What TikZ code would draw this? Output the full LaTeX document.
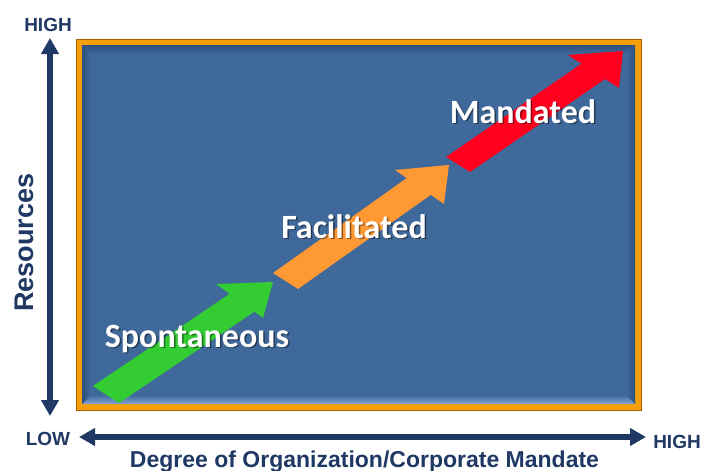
\documentclass[tikz,border=0pt]{standalone}
\usepackage{fontspec}
\setmainfont{Liberation Sans}
\newfontfamily\labelfont{Carlito}
\usetikzlibrary{arrows.meta,positioning}

\definecolor{navy}{RGB}{31,56,100}
\definecolor{boxblue}{RGB}{63,105,155}
\definecolor{boxdark}{RGB}{45,80,125}
\definecolor{boxlight}{RGB}{130,165,210}
\definecolor{frameorange}{RGB}{245,160,10}
\definecolor{framedark}{RGB}{170,95,0}
\definecolor{arrgreen}{RGB}{51,204,51}
\definecolor{arrorange}{RGB}{255,153,51}
\definecolor{arrred}{RGB}{255,0,30}

\tikzset{
  axis/.style={line width=6pt,color=navy,{Triangle[width=17pt,length=16pt]}-{Triangle[width=17pt,length=16pt]}},
  axislabel/.style={text=navy,font=\bfseries\fontsize{19}{22}\selectfont,anchor=base},
  axistitle/.style={text=navy,font=\bfseries\fontsize{23}{26}\selectfont,anchor=base},
  stage/.style={text=white,font=\labelfont\bfseries\fontsize{34}{40}\selectfont,anchor=base},
  stageshadow/.style={stage,text=black,opacity=0.45}
}

\begin{document}
\begin{tikzpicture}[x=1pt,y=-1pt]
  \useasboundingbox (0,0) rectangle (702,471);

  % frame and panel
  \draw [line width=1pt,color=framedark,fill=frameorange] (76,39) rectangle (641,410);
  \fill [boxblue] (82,45) rectangle (635,404);
  \shade [top color=boxdark,bottom color=boxblue] (82,45) -- (635,45) -- (626,54) -- (91,54) -- cycle;
  \shade [top color=boxblue,bottom color=boxlight] (91,395) -- (626,395) -- (635,404) -- (82,404) -- cycle;
  \shade [left color=boxdark,right color=boxblue] (82,45) -- (91,54) -- (91,395) -- (82,404) -- cycle;
  \shade [left color=boxblue,right color=boxdark] (635,45) -- (626,54) -- (626,395) -- (635,404) -- cycle;

  % stage arrows
  \fill [arrgreen] (93,386) -- (229.7,293.8) -- (216,284) -- (273,282) -- (263,318) -- (254.4,311.7) -- (119,403) -- cycle;
  \fill [arrorange] (273,273) -- (406.7,178.1) -- (395,170) -- (449,165) -- (444,204) -- (430.8,194.8) -- (298,289) -- cycle;
  \fill [arrred] (446,157) -- (581.5,63.7) -- (568,55) -- (623,51) -- (619,88) -- (605.1,79) -- (470,172) -- cycle;

  % stage labels
  \node [stageshadow] at (198.5,348.5) {Spontaneous};
  \node [stage] (spont) at (197,347) {Spontaneous};
  \node [stageshadow] at (355.5,239.5) {Facilitated};
  \node [stage] (facil) at (354,238) {Facilitated};
  \node [stageshadow] at (524.5,124.5) {Mandated};
  \node [stage] (mand) at (523,123) {Mandated};

  % axes
  \coordinate (ylow) at (50,416);
  \coordinate (yhigh) at (50,38);
  \coordinate (xlow) at (79,437);
  \coordinate (xhigh) at (646,437);
  \draw [axis] (ylow) -- (yhigh);
  \draw [axis] (xlow) -- (xhigh);

  \node [axislabel] (yhi) at (48,31) {HIGH};
  \node [axislabel] (xlo) at (48,445) {LOW};
  \node [axislabel] (xhi) at (677,448) {HIGH};
  \node [axistitle] (xtitle) at (364.5,467) {Degree of Organization/Corporate Mandate};
  \node [axistitle,font=\bfseries\fontsize{27}{30}\selectfont,rotate=90] (ytitle) at (34,242.5) {Resources};
\end{tikzpicture}
\end{document}
